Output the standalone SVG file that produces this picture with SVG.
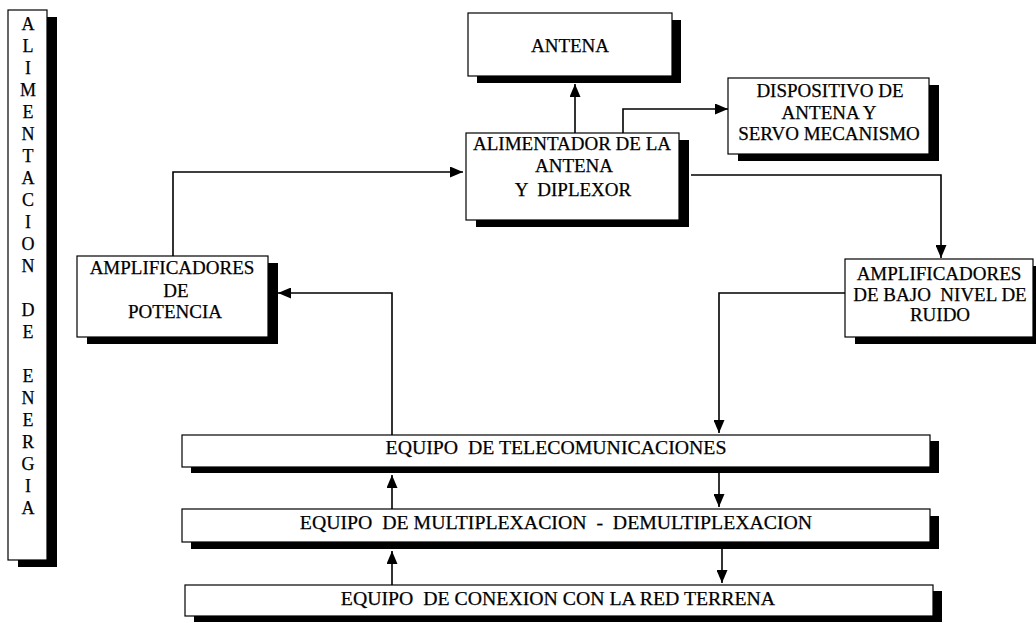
<svg xmlns="http://www.w3.org/2000/svg" width="1036" height="623" viewBox="0 0 1036 623">
  <style>
    .frame { fill: #ffffff; stroke: #000000; stroke-width: 1.2; }
    .shadow { fill: #000000; }
    .label { font-family: "Liberation Serif", "Times New Roman", serif; font-size: 19px; fill: #000000; stroke: #000000; stroke-width: 0.25; text-anchor: middle; white-space: pre; }
    .wide { font-size: 19.8px; }
    .column { font-family: "Liberation Serif", "Times New Roman", serif; font-size: 18px; fill: #000000; stroke: #000000; stroke-width: 0.25; text-anchor: middle; }
    .wire { fill: none; stroke: #000000; stroke-width: 1.6; }
  </style>
  <defs>
    <marker id="arrow" viewBox="0 0 13 11" refX="13" refY="5.5" markerWidth="13" markerHeight="11" orient="auto" markerUnits="userSpaceOnUse">
      <path d="M0,0 L13,5.5 L0,11 z" fill="#000000"/>
    </marker>
  </defs>

  <rect width="1036" height="623" fill="#ffffff"/>

  <!-- power supply column -->
  <g id="alimentacion">
    <rect class="shadow" x="18" y="17" width="39" height="550"/>
    <rect class="frame" x="8" y="10" width="39" height="550"/>
    <text class="column" x="28" y="30"><tspan x="28">A</tspan><tspan x="28" dy="22">L</tspan><tspan x="28" dy="22">I</tspan><tspan x="28" dy="22">M</tspan><tspan x="28" dy="22">E</tspan><tspan x="28" dy="22">N</tspan><tspan x="28" dy="22">T</tspan><tspan x="28" dy="22">A</tspan><tspan x="28" dy="22">C</tspan><tspan x="28" dy="22">I</tspan><tspan x="28" dy="22">O</tspan><tspan x="28" dy="22">N</tspan><tspan x="28" dy="44">D</tspan><tspan x="28" dy="22">E</tspan><tspan x="28" dy="44">E</tspan><tspan x="28" dy="22">N</tspan><tspan x="28" dy="22">E</tspan><tspan x="28" dy="22">R</tspan><tspan x="28" dy="22">G</tspan><tspan x="28" dy="22">I</tspan><tspan x="28" dy="22">A</tspan></text>
  </g>

  <g id="antena">
    <rect class="shadow" x="477" y="20" width="204" height="63"/>
    <rect class="frame" x="468" y="13" width="204" height="63"/>
    <text class="label" x="570" y="52">ANTENA</text>
  </g>

  <g id="alimentador">
    <rect class="shadow" x="476" y="140" width="213" height="87"/>
    <rect class="frame" x="466" y="133" width="213" height="87"/>
    <text class="label" x="572" y="150">ALIMENTADOR DE LA</text>
    <text class="label" x="574" y="172">ANTENA</text>
    <text class="label" x="573" y="196">Y  DIPLEXOR</text>
  </g>

  <g id="dispositivo">
    <rect class="shadow" x="738" y="85" width="201" height="76"/>
    <rect class="frame" x="728" y="78" width="201" height="76"/>
    <text class="label" x="830" y="97">DISPOSITIVO DE</text>
    <text class="label" x="829" y="119">ANTENA Y</text>
    <text class="label" x="829" y="140">SERVO MECANISMO</text>
  </g>

  <g id="amp-potencia">
    <rect class="shadow" x="87" y="263" width="191" height="81"/>
    <rect class="frame" x="77" y="256" width="191" height="81"/>
    <text class="label" x="172" y="274">AMPLIFICADORES</text>
    <text class="label" x="176" y="297">DE</text>
    <text class="label" x="175" y="318">POTENCIA</text>
  </g>

  <g id="amp-bajo-ruido">
    <rect class="shadow" x="855" y="266" width="188" height="78"/>
    <rect class="frame" x="845" y="259" width="188" height="78"/>
    <text class="label" x="939" y="280">AMPLIFICADORES</text>
    <text class="label" x="940" y="301">DE BAJO  NIVEL DE</text>
    <text class="label" x="940" y="321">RUIDO</text>
  </g>

  <g id="telecom">
    <rect class="shadow" x="191" y="441" width="748" height="32"/>
    <rect class="frame" x="182" y="435" width="748" height="32"/>
    <text class="label wide" x="556" y="454">EQUIPO  DE TELECOMUNICACIONES</text>
  </g>

  <g id="multiplex">
    <rect class="shadow" x="191" y="516" width="748" height="33"/>
    <rect class="frame" x="182" y="509" width="748" height="33"/>
    <text class="label wide" x="556" y="529">EQUIPO  DE MULTIPLEXACION  -  DEMULTIPLEXACION</text>
  </g>

  <g id="conexion">
    <rect class="shadow" x="194" y="591" width="748" height="31"/>
    <rect class="frame" x="185" y="585" width="748" height="31"/>
    <text class="label wide" x="558" y="605">EQUIPO  DE CONEXION CON LA RED TERRENA</text>
  </g>

  <!-- signal paths -->
  <g id="connectors">
    <path class="wire" d="M575,133 L575,84" marker-end="url(#arrow)"/>
    <path class="wire" d="M623,133 L623,109 L728,109" marker-end="url(#arrow)"/>
    <path class="wire" d="M691,175 L941,175 L941,258" marker-end="url(#arrow)"/>
    <path class="wire" d="M173,256 L173,172 L463,172" marker-end="url(#arrow)"/>
    <path class="wire" d="M392,435 L392,293 L278,293" marker-end="url(#arrow)"/>
    <path class="wire" d="M845,293 L719,293 L719,433" marker-end="url(#arrow)"/>
    <path class="wire" d="M719,473 L719,507" marker-end="url(#arrow)"/>
    <path class="wire" d="M722,549 L722,583" marker-end="url(#arrow)"/>
    <path class="wire" d="M392,509 L392,475" marker-end="url(#arrow)"/>
    <path class="wire" d="M392,585 L392,551" marker-end="url(#arrow)"/>
  </g>
</svg>
